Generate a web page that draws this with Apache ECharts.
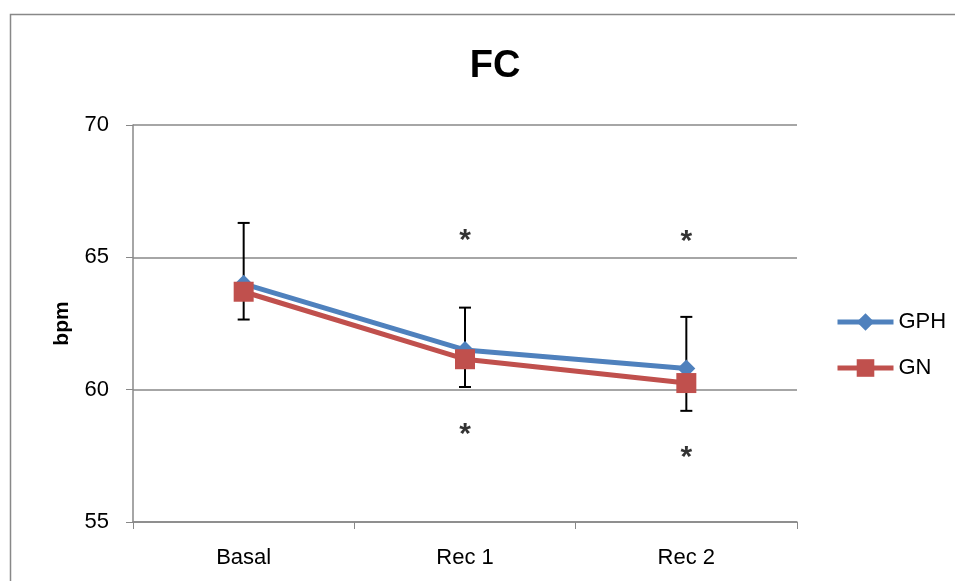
<!DOCTYPE html>
<html>
<head>
<meta charset="utf-8">
<script src="https://cdn.jsdelivr.net/npm/echarts@6/dist/echarts.min.js"></script>
<style>
  html, body { margin: 0; padding: 0; background: #fff; }
  #main { width: 955px; height: 581px; }
</style>
</head>
<body>
<div id="main"></div>
<script>
// values
var categories = ['Basal', 'Rec 1', 'Rec 2'];
var gph = [64.0, 61.5, 60.8];
var gn = [63.7, 61.15, 60.25];
var gphUpper = [66.3, 63.1, 62.75];   // GPH error bar goes up
var gnLower = [62.65, 60.1, 59.2];    // GN error bar goes down
var starsHigh = [null, 65.9, 65.85];
var starsLow = [null, 58.55, 57.7];

var blue = '#4F81BD', red = '#C0504D';
var font = '"Liberation Sans", Arial, sans-serif';

function errorData(lo, hi) {
  var out = [];
  for (var i = 0; i < categories.length; i++) out.push([i, lo[i], hi[i]]);
  return out;
}

function starData() {
  var out = [];
  for (var i = 0; i < categories.length; i++) {
    if (starsHigh[i] != null) out.push([i, starsHigh[i]]);
    if (starsLow[i] != null) out.push([i, starsLow[i]]);
  }
  return out;
}

function renderBar(params, api) {
  var a = api.coord([api.value(0), api.value(1)]);
  var b = api.coord([api.value(0), api.value(2)]);
  var hw = 6;
  var st = { stroke: '#000', lineWidth: 2 };
  return {
    type: 'group',
    children: [
      { type: 'line', shape: { x1: a[0], y1: a[1], x2: b[0], y2: b[1] }, style: st },
      { type: 'line', shape: { x1: a[0] - hw, y1: a[1], x2: a[0] + hw, y2: a[1] }, style: st },
      { type: 'line', shape: { x1: b[0] - hw, y1: b[1], x2: b[0] + hw, y2: b[1] }, style: st }
    ]
  };
}

var chart = echarts.init(document.getElementById('main'));
chart.setOption({
  animation: false,
  backgroundColor: '#fff',
  graphic: [{
    type: 'rect', left: 8, top: 12,
    shape: { width: 1000, height: 620 },
    style: { fill: 'none', stroke: '#888', lineWidth: 1.5 },
    silent: true
  }],
  title: {
    text: 'FC', left: 490, top: 43, textAlign: 'center',
    textStyle: { fontFamily: font, fontSize: 38, fontWeight: 'bold', color: '#000' }
  },
  legend: {
    data: ['GPH', 'GN'],
    orient: 'vertical', left: 830, top: 306,
    itemWidth: 56, itemHeight: 22, itemGap: 24,
    lineStyle: { width: 5 },
    textStyle: { fontFamily: font, fontSize: 22, color: '#000' }
  },
  grid: { left: 133, right: 158, top: 125, bottom: 59 },
  xAxis: {
    type: 'category', data: categories, boundaryGap: true,
    axisLine: { lineStyle: { color: '#888', width: 1.5 } },
    axisTick: { show: true, length: 7, lineStyle: { color: '#888' } },
    axisLabel: { fontFamily: font, fontSize: 22, color: '#000', margin: 25 }
  },
  yAxis: {
    type: 'value', min: 55, max: 70, interval: 5,
    name: 'bpm', nameLocation: 'middle', nameGap: 60, nameRotate: 90,
    nameTextStyle: { fontFamily: font, fontSize: 21, fontWeight: 'bold', color: '#000' },
    axisLine: { show: true, lineStyle: { color: '#888', width: 1.5 } },
    axisTick: { show: true, length: 7, lineStyle: { color: '#888' } },
    splitLine: { lineStyle: { color: '#888', width: 1.5 } },
    axisLabel: { fontFamily: font, fontSize: 22, color: '#000', margin: 24 }
  },
  series: [
    {
      type: 'custom', name: 'errGPH', renderItem: renderBar, z: 1,
      data: errorData(gph, gphUpper), silent: true
    },
    {
      type: 'custom', name: 'errGN', renderItem: renderBar, z: 1,
      data: errorData(gn, gnLower), silent: true
    },
    {
      name: 'GPH', type: 'line', data: gph, z: 3,
      color: blue, symbol: 'diamond', symbolSize: 18,
      lineStyle: { width: 5, color: blue }, itemStyle: { color: blue }
    },
    {
      name: 'GN', type: 'line', data: gn, z: 4,
      color: red, symbol: 'rect', symbolSize: 20,
      lineStyle: { width: 5, color: red }, itemStyle: { color: red }
    },
    {
      type: 'scatter', name: 'stars', data: starData(), symbolSize: 1,
      itemStyle: { color: 'rgba(0,0,0,0)' }, silent: true,
      label: {
        show: true, position: 'inside', formatter: '*',
        fontFamily: font, fontSize: 30, fontWeight: 'bold', color: '#000', offset: [0, 7]
      }
    }
  ]
});
</script>
</body>
</html>
